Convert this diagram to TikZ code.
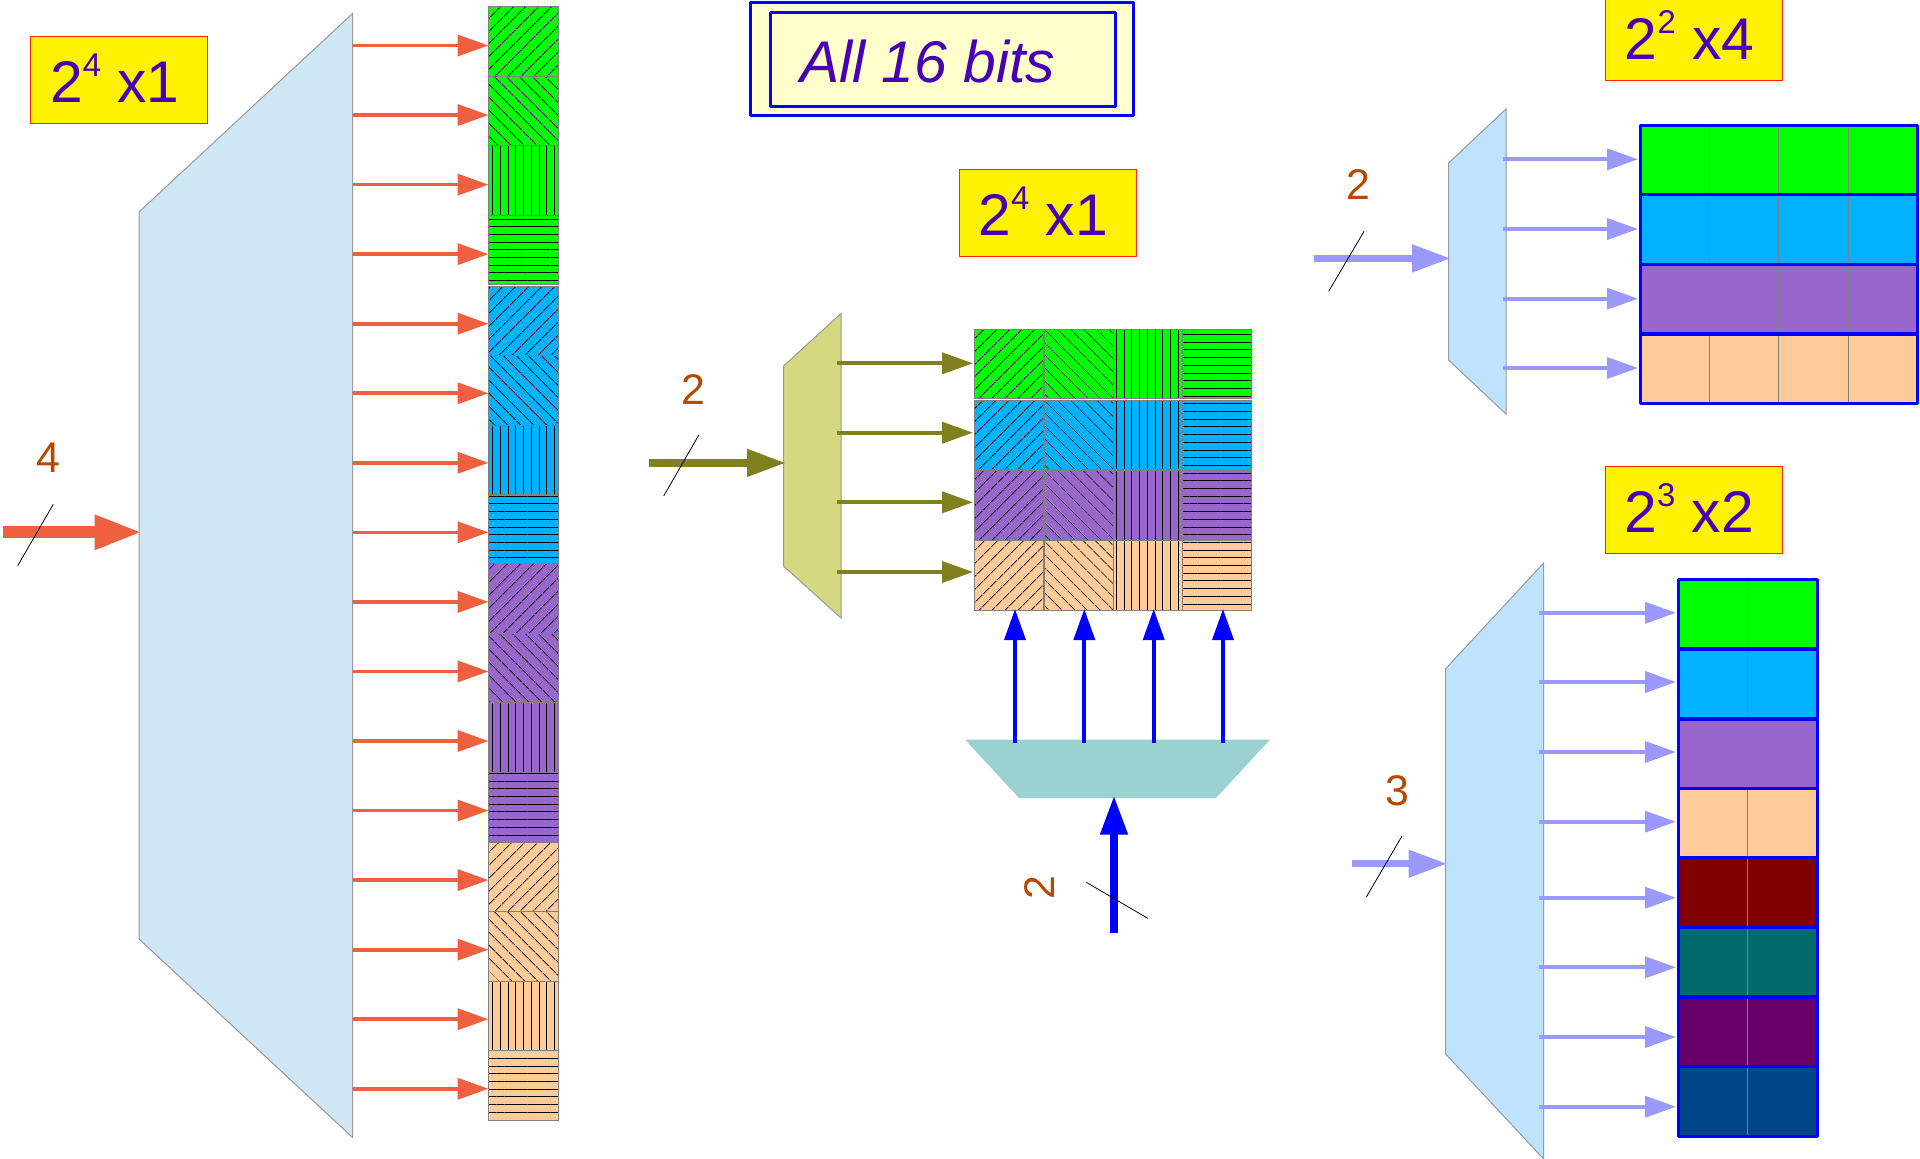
\documentclass[tikz,border=0pt]{standalone}
\usepackage{fontspec}
\setmainfont{Liberation Sans}
\usetikzlibrary{arrows.meta, patterns.meta, positioning}
\definecolor{cgreen}{HTML}{00FF00}
\definecolor{cblue}{HTML}{00B2FF}
\definecolor{cpurple}{HTML}{9966CC}
\definecolor{corange}{HTML}{FFCC99}
\definecolor{cmaroon}{HTML}{800000}
\definecolor{cteal}{HTML}{006B6B}
\definecolor{cplum}{HTML}{660066}
\definecolor{cnavy}{HTML}{004586}
\definecolor{ink}{HTML}{4700B3}
\definecolor{numcol}{HTML}{B84700}
\definecolor{coral}{HTML}{EE6040}
\definecolor{olive}{HTML}{808020}
\definecolor{lilac}{HTML}{9999FF}
\definecolor{paleblue}{HTML}{CFE7F5}
\definecolor{skyblue}{HTML}{BFE3FF}
\definecolor{khaki}{HTML}{D4D97F}
\definecolor{paleteal}{HTML}{9AD1D1}
\definecolor{cream}{HTML}{FFFFCC}
\newcommand{\sups}[1]{\raisebox{26bp}{\fontsize{33}{33}\selectfont #1}}
\tikzset{
    cell/.style={draw=gray, line width=1bp, inner sep=0pt, outer sep=0pt, anchor=north west,
      minimum width=69.5bp, minimum height=69.5bp, preaction={fill=#1}},
    hatchne/.style={pattern={Lines[angle=45,distance=10bp,line width=0.9bp]}},
    hatchnw/.style={pattern={Lines[angle=-45,distance=10bp,line width=0.9bp]}},
    hatchv/.style={pattern={Lines[angle=90,distance=7.7bp,line width=1bp]}},
    hatchh/.style={pattern={Lines[angle=0,distance=7.7bp,line width=1bp]}},
    rowbox/.style={draw=blue, line width=3bp, inner sep=0pt, outer sep=0pt, anchor=north west,
      line join=round},
    demux/.style={draw=gray!80, line width=1bp},
    sizebox/.style={draw=red!70!orange, line width=1bp, fill=yellow, text=ink, inner sep=0pt,
      minimum width=177bp, text height=66bp, text depth=21bp, font=\fontsize{59}{59}\selectfont},
    num/.style={text=numcol, inner sep=0pt, font=\fontsize{43}{43}\selectfont},
    slash/.style={black, line width=0.8bp},
    thin arrow/.style={-{Triangle[length=31bp,width=21bp]}, line width=3.7bp, shorten >=-1bp},
    mid arrow/.style={-{Triangle[length=39bp,width=26bp]}, line width=7.5bp, shorten >=-2.5bp},
    fat arrow/.style={-{Triangle[length=48bp,width=32bp]}, line width=11.7bp, shorten >=-3.5bp}
}
\begin{document}
\begin{tikzpicture}[x=1bp, y=-1bp]
      \useasboundingbox (0,0) rectangle (1920,1158.5);

      % first block, one column
      \fill[demux, fill=paleblue]
        (139,212) -- (352.6,13.5) -- (352.6,1137.5) -- (139,939) -- cycle;
      \foreach \col/\ytop/\g in {cgreen/6.7/a, cblue/286/b, cpurple/563.5/c, corange/842/d}
        \foreach \hatch [count=\k] in {hatchne, hatchnw, hatchv, hatchh} {
          \pgfmathsetmacro\ycell{\ytop+(\k-1)*69.5}
          \node[cell=\col, \hatch] (L\g\k) at (488.5,\ycell) {};
        }
      \foreach \i in {1,...,16} {
        \pgfmathsetmacro\yarrow{45.5+(\i-1)*69.55}
        \coordinate (Lt\i) at (352.6,\yarrow);
        \coordinate (Lh\i) at (487.5,\yarrow);
        \draw[thin arrow, coral] (Lt\i) -- (Lh\i);
      }
      \coordinate (Lin) at (3.3,532.3);
      \coordinate (Lend) at (139,532.3);
      \draw[fat arrow, coral] (Lin) -- (Lend);
      \coordinate (Ls1) at (17.7,565.7);
      \coordinate (Ls2) at (53.3,504.3);
      \draw[slash] (Ls1) -- (Ls2);
      \node[num] (Lnum) at (48,458) {4};
      \node[sizebox] (Lsize) at (119.3,79.5) {2\sups{4} x1\hspace*{9bp}};

      % title
      \node[draw=blue, line width=3bp, fill=cream, inner sep=0pt,
        minimum width=383bp, minimum height=113bp, line join=round] (titleout) at (942.3,59.2) {};
      \node[draw=blue, line width=3bp, text=ink, inner sep=0pt, minimum width=345bp,
        text height=69.7bp, text depth=24bp, line join=round, font=\fontsize{59}{59}\selectfont\itshape]
        (titlein) at (942.5,59.2) {All 16 bits\hspace*{30bp}};

      % second block, four by four
      \fill[demux, fill=khaki]
        (783.5,366) -- (841,313.5) -- (841,618) -- (783.5,566) -- cycle;
      \foreach \col/\y/\g in {cgreen/329.3/a, cblue/400.3/b, cpurple/470.7/c, corange/540.7/d} {
        \foreach \hatch/\x [count=\k] in {hatchne/974.3, hatchnw/1044.3, hatchv/1113.3, hatchh/1182.3}
          \node[cell=\col, \hatch] (M\g\k) at (\x,\y) {};
      }
      \foreach \y [count=\i] in {363.3,432.7,502.3,572} {
        \coordinate (Mt\i) at (836.5,\y);
        \coordinate (Mh\i) at (972,\y);
        \draw[thin arrow, olive] (Mt\i) -- (Mh\i);
      }
      \coordinate (Min) at (649,462.9);
      \coordinate (Mend) at (783.5,462.9);
      \draw[mid arrow, olive] (Min) -- (Mend);
      \coordinate (Ms1) at (663.7,496);
      \coordinate (Ms2) at (699,434.7);
      \draw[slash] (Ms1) -- (Ms2);
      \node[num] (Mnum) at (693,389.4) {2};
      \node[sizebox] (Msize) at (1047.7,213.3) {2\sups{4} x1\hspace*{9bp}};

      % row select below
      \fill[fill=paleteal]
        (965,739.6) -- (1270,739.6) -- (1216,798) -- (1019,798) -- cycle;
      \foreach \x [count=\i] in {1015,1084.3,1153.7,1223} {
        \coordinate (Bt\i) at (\x,743);
        \coordinate (Bh\i) at (\x,610);
        \draw[thin arrow, blue] (Bt\i) -- (Bh\i);
      }
      \coordinate (Bin) at (1114,933);
      \coordinate (Bend) at (1114,798);
      \draw[mid arrow, blue] (Bin) -- (Bend);
      \coordinate (Bs1) at (1086.3,882.3);
      \coordinate (Bs2) at (1147.7,918.3);
      \draw[slash] (Bs1) -- (Bs2);
      \node[num, rotate=90] (Bnum) at (1040,888) {2};

      % top right block
      \fill[demux, fill=skyblue]
        (1448.6,163) -- (1506,109) -- (1506,414) -- (1448.6,360) -- cycle;
      \foreach \col/\y [count=\j] in {cgreen/125, cblue/194.7, cpurple/264.3, corange/334} {
        \foreach \x [count=\k] in {1640,1709.3,1778.7,1848}
          \node[cell=\col] (T\j\k) at (\x,\y) {};
        \node[rowbox, minimum width=277.7bp, minimum height=69.5bp] (Trow\j) at (1640,\y) {};
      }
      \foreach \y [count=\i] in {159.3,229,298.7,368} {
        \coordinate (Tt\i) at (1502.5,\y);
        \coordinate (Th\i) at (1637,\y);
        \draw[thin arrow, lilac] (Tt\i) -- (Th\i);
      }
      \coordinate (Tin) at (1314,258.4);
      \coordinate (Tend) at (1448.6,258.4);
      \draw[mid arrow, lilac] (Tin) -- (Tend);
      \coordinate (Ts1) at (1328.6,291.4);
      \coordinate (Ts2) at (1364,231.4);
      \draw[slash] (Ts1) -- (Ts2);
      \node[num] (Tnum) at (1358,185) {2};
      \node[sizebox] (Tsize) at (1693.5,36.5) {2\sups{2} x4\hspace*{8bp}};

      % bottom right block
      \fill[demux, fill=skyblue]
        (1445.7,668.6) -- (1543.7,563) -- (1543.7,1159) -- (1445.7,1054) -- cycle;
      \foreach \col/\y [count=\j] in {cgreen/579, cblue/649, cpurple/719, corange/788.3,
          cmaroon/857.7, cteal/927, cplum/997, cnavy/1066.7} {
        \foreach \x [count=\k] in {1678.3,1747.3}
          \node[cell=\col] (R\j\k) at (\x,\y) {};
        \node[rowbox, minimum width=138.7bp, minimum height=69.5bp] (Rrow\j) at (1678.3,\y) {};
      }
      \foreach \y [count=\i] in {612.8,682,752,821.7,897.7,967.3,1037,1106.7} {
        \coordinate (Rt\i) at (1539.3,\y);
        \coordinate (Rh\i) at (1675,\y);
        \draw[thin arrow, lilac] (Rt\i) -- (Rh\i);
      }
      \coordinate (Rin) at (1351.7,863.7);
      \coordinate (Rend) at (1445,863.7);
      \draw[mid arrow, lilac] (Rin) -- (Rend);
      \coordinate (Rs1) at (1366.3,897);
      \coordinate (Rs2) at (1402,836);
      \draw[slash] (Rs1) -- (Rs2);
      \node[num] (Rnum) at (1397,791) {3};
      \node[sizebox] (Rsize) at (1693.5,510) {2\sups{3} x2\hspace*{9bp}};
     \end{tikzpicture}
\end{document}
